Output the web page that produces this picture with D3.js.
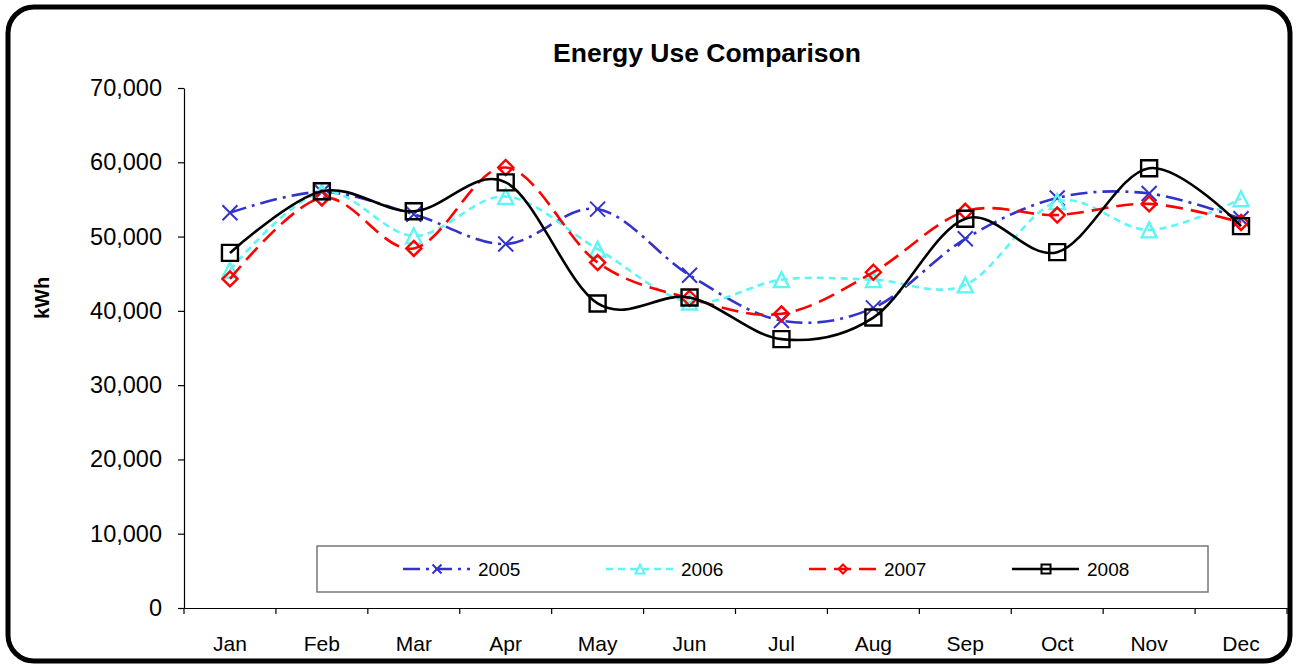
<!DOCTYPE html>
<html>
<head>
	<meta charset="utf-8">
	<title>Energy Use Comparison</title>
	<style type="text/css">
		body {
			margin: 0;
			background: white;
			font-family: Arial, 'Liberation Sans', sans-serif;
		}
		svg {
			display: block;
		}
	</style>
	<script src="https://d3js.org/d3.v7.min.js"></script>
</head>
<body>
	<svg width="1298" height="669"></svg>
	<script type="text/javascript">
		// chart data
		var months = ['Jan', 'Feb', 'Mar', 'Apr', 'May', 'Jun', 'Jul', 'Aug', 'Sep', 'Oct', 'Nov', 'Dec'];
		var years = ['2005', '2006', '2007', '2008'];
		var use2005 = [53200, 56000, 53000, 49000, 53700, 44800, 38700, 40400, 49700, 55200, 55800, 52400];
		var use2006 = [45500, 56000, 50100, 55400, 48300, 41200, 44200, 44200, 43500, 54700, 50900, 55100];
		var use2007 = [44300, 55200, 48400, 59300, 46500, 41700, 39600, 45200, 53400, 52900, 54400, 51900];
		var use2008 = [47800, 56100, 53400, 57300, 41000, 41800, 36200, 39100, 52400, 47900, 59200, 51400];
		var yTicks = [0, 10000, 20000, 30000, 40000, 50000, 60000, 70000];

		var series = [
			{name: years[0], values: use2005, col: '#3333cc', dash: '17,6,3,6', marker: 'x'},
			{name: years[1], values: use2006, col: '#5ff5f5', dash: '7,5', marker: 'tri'},
			{name: years[2], values: use2007, col: '#ff0000', dash: '17,8', marker: 'diamond'},
			{name: years[3], values: use2008, col: '#000000', dash: null, marker: 'square'}
		];

		var svg = d3.select('svg');

		// outer rounded frame
		svg.append('rect')
			.attr('x', 8).attr('y', 7)
			.attr('width', 1282).attr('height', 654)
			.attr('rx', 26).attr('ry', 26)
			.attr('fill', 'white')
			.attr('stroke', 'black')
			.attr('stroke-width', 5);

		var x = d3.scaleBand().domain(months).range([184, 1287]).padding(0);
		var y = d3.scaleLinear().domain([0, 70000]).range([608, 88]);

		// title
		svg.append('text')
			.attr('x', 707).attr('y', 62)
			.attr('text-anchor', 'middle')
			.attr('font-size', '26.5px')
			.attr('font-weight', 'bold')
			.text('Energy Use Comparison');

		// y axis label
		svg.append('text')
			.attr('transform', 'translate(49,298) rotate(-90)')
			.attr('text-anchor', 'middle')
			.attr('font-size', '20px')
			.attr('font-weight', 'bold')
			.text('kWh');

		// y axis
		var yAxis = svg.append('g')
			.attr('transform', 'translate(184,0)')
			.call(d3.axisLeft(y).tickValues(yTicks).tickSize(6).tickSizeOuter(0).tickPadding(16)
				.tickFormat(d3.format(',')));
		yAxis.select('.domain').attr('stroke', 'black').attr('stroke-width', 1.2);
		yAxis.selectAll('.tick line').attr('stroke', 'black').attr('stroke-width', 1.2);
		yAxis.selectAll('text').attr('font-size', '23.5px').attr('font-family', 'Arial, Liberation Sans, sans-serif').attr('fill', 'black');

		// x axis, ticks between categories
		var xAxis = svg.append('g')
			.attr('transform', 'translate(0,608)')
			.call(d3.axisBottom(x).tickSize(0).tickPadding(28));
		xAxis.select('.domain').attr('stroke', 'black').attr('stroke-width', 1.2);
		xAxis.selectAll('text').attr('font-size', '21px').attr('font-family', 'Arial, Liberation Sans, sans-serif').attr('fill', 'black');
		xAxis.selectAll('.sep')
			.data(months.concat(['end']))
			.enter()
			.append('line')
			.attr('class', 'sep')
			.attr('x1', (d, i) => x.range()[0] + i * x.step())
			.attr('x2', (d, i) => x.range()[0] + i * x.step())
			.attr('y1', 0).attr('y2', 6)
			.attr('stroke', 'black').attr('stroke-width', 1.2);

		// marker shapes
		function markerPath(type, cx, cy, s) {
			var h = s / 2;
			if (type == 'x') {
				return 'M' + (cx - h) + ',' + (cy - h) + 'L' + (cx + h) + ',' + (cy + h) +
					'M' + (cx - h) + ',' + (cy + h) + 'L' + (cx + h) + ',' + (cy - h);
			} else if (type == 'tri') {
				return 'M' + cx + ',' + (cy - h) + 'L' + (cx + h) + ',' + (cy + h) + 'L' + (cx - h) + ',' + (cy + h) + 'Z';
			} else if (type == 'diamond') {
				return 'M' + cx + ',' + (cy - h) + 'L' + (cx + h) + ',' + cy + 'L' + cx + ',' + (cy + h) + 'L' + (cx - h) + ',' + cy + 'Z';
			}
			return 'M' + (cx - h) + ',' + (cy - h) + 'h' + s + 'v' + s + 'h' + (-s) + 'Z';
		}

		var lineGenerator = d3.line()
			.x((d, i) => x(months[i]) + x.bandwidth() / 2)
			.y((d) => y(d))
			.curve(d3.curveCardinal.tension(0));

		series.forEach((s) => {
			svg.append('path')
				.attr('d', lineGenerator(s.values))
				.attr('fill', 'none')
				.attr('stroke', s.col)
				.attr('stroke-width', 2.6)
				.attr('stroke-dasharray', s.dash);

			svg.selectAll('.m' + s.name)
				.data(s.values)
				.enter()
				.append('path')
				.attr('class', 'm' + s.name)
				.attr('d', (d, i) => markerPath(s.marker, x(months[i]) + x.bandwidth() / 2, y(d), s.marker == 'square' ? 16 : 15))
				.attr('fill', 'none')
				.attr('stroke', s.col)
				.attr('stroke-width', s.marker == 'x' ? 2 : 2.4);
		});

		// legend
		var legend = svg.append('g');
		legend.append('rect')
			.attr('x', 317).attr('y', 546)
			.attr('width', 891).attr('height', 46)
			.attr('fill', 'white')
			.attr('stroke', '#777')
			.attr('stroke-width', 1.5);

		series.forEach((s, i) => {
			var lx = 403 + i * 203;
			var ly = 569;
			legend.append('line')
				.attr('x1', lx).attr('x2', lx + 67)
				.attr('y1', ly).attr('y2', ly)
				.attr('stroke', s.col)
				.attr('stroke-width', 2.6)
				.attr('stroke-dasharray', s.dash);
			legend.append('path')
				.attr('d', markerPath(s.marker, lx + 34, ly, 9))
				.attr('fill', 'none')
				.attr('stroke', s.col)
				.attr('stroke-width', 2);
			legend.append('text')
				.attr('x', lx + 75).attr('y', ly + 7)
				.attr('font-size', '19px')
				.text(s.name);
		});
	</script>
</body>
</html>
